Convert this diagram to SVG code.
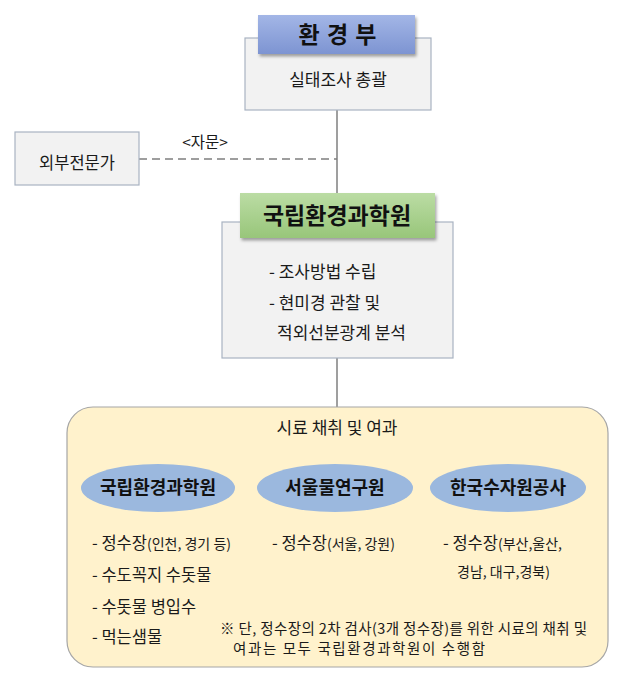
<svg xmlns="http://www.w3.org/2000/svg" width="621" height="678" viewBox="0 0 621 678">
<defs>
<linearGradient id="gBlue" x1="0" y1="0" x2="0" y2="1">
<stop offset="0" stop-color="#A3B6E6"/>
<stop offset="1" stop-color="#7D94D2"/>
</linearGradient>
<linearGradient id="gGreen" x1="0" y1="0" x2="0" y2="1">
<stop offset="0" stop-color="#BBDCA4"/>
<stop offset="1" stop-color="#98C67A"/>
</linearGradient>
<filter id="sh" x="-10%" y="-20%" width="125%" height="150%">
<feDropShadow dx="1.5" dy="2.5" stdDeviation="1.5" flood-color="#000" flood-opacity="0.35"/>
</filter>
<style>
.box{fill:#F2F2F2;stroke:#A9B3C2;stroke-width:1.2}
.t{font-family:"Noto Sans CJK KR","Noto Sans",sans-serif;fill:#1a1a1a}
.hd{font-weight:bold;fill:#111}
.conn{stroke:#7F7F7F;stroke-width:1.5;fill:none}
.ell{fill:#9BB8DE;stroke:none}
</style>
</defs>

<g id="connectors">
<line class="conn" x1="337" y1="110" x2="337" y2="196"/>
<line class="conn" x1="337" y1="358" x2="337" y2="408"/>
<line class="conn" x1="139" y1="159" x2="337" y2="159" stroke-dasharray="8,5"/>
<text class="t" x="205" y="148" font-size="15.5" text-anchor="middle">&lt;자문&gt;</text>
</g>

<g id="moe">
<rect class="box" x="245" y="38" width="186" height="72"/>
<rect x="258" y="15" width="157" height="39" fill="url(#gBlue)" filter="url(#sh)"/>
<text class="t hd" x="338" y="43" font-size="23" text-anchor="middle" letter-spacing="1">환 경 부</text>
<text class="t" x="338" y="86" font-size="17" text-anchor="middle">실태조사 총괄</text>
</g>

<g id="expert">
<rect class="box" x="15" y="132" width="124" height="53"/>
<text class="t" x="77" y="169" font-size="16.5" text-anchor="middle">외부전문가</text>
</g>

<g id="nier">
<rect class="box" x="222" y="222" width="231" height="136"/>
<rect x="240" y="193" width="195" height="45" fill="url(#gGreen)" filter="url(#sh)"/>
<text class="t hd" x="337" y="224" font-size="23" text-anchor="middle">국립환경과학원</text>
<text class="t" x="269" y="278" font-size="17">- 조사방법 수립</text>
<text class="t" x="269" y="309" font-size="17">- 현미경 관찰 및</text>
<text class="t" x="277" y="339" font-size="17">적외선분광계 분석</text>
</g>

<g id="sampling">
<rect x="67" y="407" width="541" height="260" rx="26" ry="26" fill="#FFF2CC" stroke="#A6A6A6" stroke-width="1.2"/>
<text class="t" x="337" y="434" font-size="17" text-anchor="middle">시료 채취 및 여과</text>
</g>

<g id="org1">
<ellipse class="ell" cx="158" cy="488" rx="77" ry="24"/>
<text class="t hd" x="158" y="494" font-size="18" text-anchor="middle">국립환경과학원</text>
<text class="t" x="92" y="549" font-size="16.5">- 정수장<tspan font-size="14">(인천, 경기 등)</tspan></text>
<text class="t" x="92" y="581" font-size="16.5">- 수도꼭지 수돗물</text>
<text class="t" x="92" y="613" font-size="16.5">- 수돗물 병입수</text>
<text class="t" x="92" y="643" font-size="16.5">- 먹는샘물</text>
</g>

<g id="org2">
<ellipse class="ell" cx="335" cy="488" rx="78" ry="24"/>
<text class="t hd" x="335" y="494" font-size="18" text-anchor="middle">서울물연구원</text>
<text class="t" x="272" y="549" font-size="16.5">- 정수장<tspan font-size="14">(서울, 강원)</tspan></text>
</g>

<g id="org3">
<ellipse class="ell" cx="508" cy="488" rx="78" ry="24"/>
<text class="t hd" x="508" y="494" font-size="18" text-anchor="middle">한국수자원공사</text>
<text class="t" x="443" y="549" font-size="16.5">- 정수장<tspan font-size="14">(부산,울산,</tspan></text>
<text class="t" x="457" y="577" font-size="14">경남, 대구,경북)</text>
</g>

<g id="note">
<text class="t" x="220" y="634" font-size="14.5" textLength="367" lengthAdjust="spacing">※ 단, 정수장의 2차 검사(3개 정수장)를 위한 시료의 채취 및</text>
<text class="t" x="233" y="654" font-size="14.5" textLength="252" lengthAdjust="spacing">여과는 모두 국립환경과학원이 수행함</text>
</g>
</svg>
